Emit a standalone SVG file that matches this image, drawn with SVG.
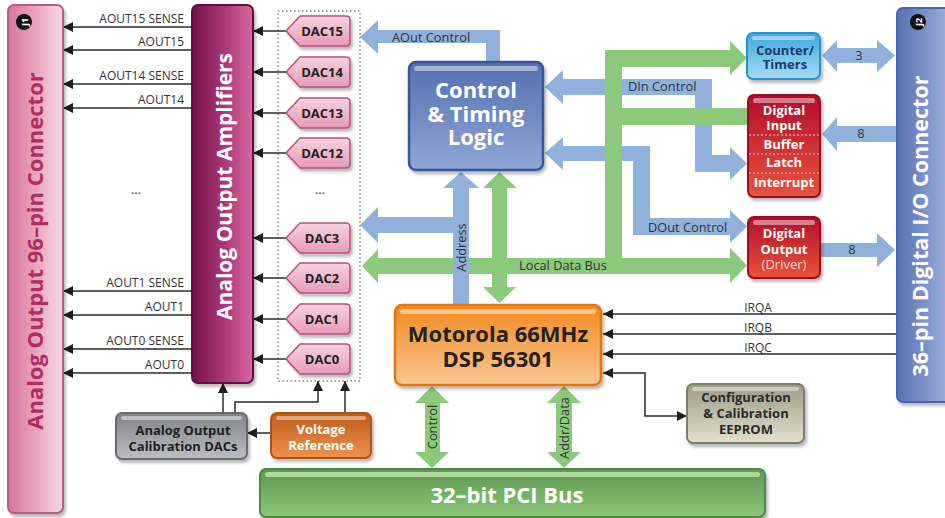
<svg xmlns="http://www.w3.org/2000/svg" width="945" height="518" viewBox="0 0 945 518">
<defs>
  <style>
    text { font-family: "Open Sans", "Noto Sans", "DejaVu Sans", sans-serif; }
    .lbl { font-size: 12px; fill: #333; }
    .bus { font-size: 12.8px; fill: #333; }
    .big { font-size: 22px; font-weight: bold; }
    .box13 { font-size: 13px; font-weight: bold; }
    .dac { font-size: 13px; font-weight: bold; fill: #222; text-anchor: middle; }
    .ln { stroke: #2a2a2a; stroke-width: 1.5; fill: none; }
    .blue { fill: #8fb1dc; }
    .green { fill: #8bc97b; }
    .hl { fill: #ffffff; opacity: 0.45; }
    .mid { text-anchor: middle; }
  </style>
  <marker id="ah" viewBox="0 0 10 10" refX="10" refY="5" markerWidth="11" markerHeight="10" markerUnits="userSpaceOnUse" orient="auto-start-reverse">
    <path d="M0,0 L10,5 L0,10 z" fill="#1e1e1e"/>
  </marker>
  <filter id="sh" x="-10%" y="-10%" width="130%" height="130%">
    <feDropShadow dx="2" dy="3" stdDeviation="1.5" flood-color="#000" flood-opacity="0.28"/>
  </filter>
  <linearGradient id="gJ1" x1="0" y1="0" x2="1" y2="0"><stop offset="0" stop-color="#d6759c"/><stop offset="0.5" stop-color="#e9a4bf"/><stop offset="1" stop-color="#f8d8e5"/></linearGradient>
  <linearGradient id="gAmp" x1="0" y1="0" x2="1" y2="0"><stop offset="0" stop-color="#731446"/><stop offset="0.5" stop-color="#a83574"/><stop offset="1" stop-color="#d8689e"/></linearGradient>
  <linearGradient id="gDac" x1="0" y1="0" x2="0" y2="1"><stop offset="0" stop-color="#f8d2e0"/><stop offset="1" stop-color="#e69ab8"/></linearGradient>
  <linearGradient id="gCtl" x1="0" y1="0" x2="0" y2="1"><stop offset="0" stop-color="#5470b0"/><stop offset="1" stop-color="#90a6d6"/></linearGradient>
  <linearGradient id="gCnt" x1="0" y1="0" x2="0" y2="1"><stop offset="0" stop-color="#3ea8e0"/><stop offset="1" stop-color="#a6dcf5"/></linearGradient>
  <linearGradient id="gRed" x1="0" y1="0" x2="0" y2="1"><stop offset="0" stop-color="#b30f2c"/><stop offset="1" stop-color="#e9523c"/></linearGradient>
  <linearGradient id="gJ2" x1="0" y1="0" x2="1" y2="0"><stop offset="0" stop-color="#5670b2"/><stop offset="1" stop-color="#a2b2dc"/></linearGradient>
  <linearGradient id="gMot" x1="0" y1="0" x2="0" y2="1"><stop offset="0" stop-color="#f08a1c"/><stop offset="1" stop-color="#fac794"/></linearGradient>
  <linearGradient id="gEep" x1="0" y1="0" x2="0" y2="1"><stop offset="0" stop-color="#9e9a86"/><stop offset="1" stop-color="#e4e0d0"/></linearGradient>
  <linearGradient id="gCal" x1="0" y1="0" x2="0" y2="1"><stop offset="0" stop-color="#818387"/><stop offset="1" stop-color="#bcbec1"/></linearGradient>
  <linearGradient id="gVr" x1="0" y1="0" x2="0" y2="1"><stop offset="0" stop-color="#bd5c1a"/><stop offset="1" stop-color="#f0924e"/></linearGradient>
  <linearGradient id="gPci" x1="0" y1="0" x2="0" y2="1"><stop offset="0" stop-color="#5e9752"/><stop offset="1" stop-color="#8cc676"/></linearGradient>
</defs>
<rect width="945" height="518" fill="#ffffff"/>

<g id="connectors">
  <!-- blue buses -->
  <path class="blue" d="M486,64 L486,43 L378,43 L378,54 L360,37 L378,20 L378,30 L500,30 L500,64 Z"/>
  <text class="bus" x="392" y="42">AOut Control</text>
  <path class="blue" d="M545,87 L563,70 L563,79 L712,79 L712,155 L730,155 L730,147 L747,163.5 L730,180 L730,172 L695,172 L695,95 L563,95 L563,104 Z"/>
  <path class="blue" d="M545,153 L563,137 L563,146 L650,146 L650,218 L730,218 L730,210 L747,226.5 L730,243 L730,235 L633,235 L633,161 L563,161 L563,170 Z"/>
  <path class="blue" d="M822,55.5 L837,40 L837,48 L877,48 L877,40 L895,55.5 L877,72 L877,63 L837,63 L837,72 Z"/>
  <path class="blue" d="M822,134 L837,117 L837,126 L899,126 L899,142 L837,142 L837,151 Z"/>
  <path class="blue" d="M818,243 L877,243 L877,233 L895,250 L877,267 L877,257 L818,257 Z"/>
  <!-- green buses -->
  <path class="green" d="M362,266 L378,249 L378,258 L605,258 L605,50 L730,50 L730,41 L747,58 L730,75 L730,67 L622,67 L622,108 L750,108 L750,125 L622,125 L622,258 L730,258 L730,248 L747,265.5 L730,283 L730,274 L378,274 L378,283 Z"/>
  <path class="green" d="M499.5,172 L517,188 L507,188 L507,287 L516,287 L499.5,303 L483,287 L492,287 L492,188 L483,188 Z"/>
  <path class="green" d="M432,386 L449,403 L440,403 L440,452 L449,452 L432,468 L415,452 L425,452 L425,403 L415,403 Z"/>
  <path class="green" d="M564,386 L581,403 L572,403 L572,452 L581,452 L564,468 L547,452 L556,452 L556,403 L547,403 Z"/>
  <!-- address (over data bus) -->
  <path class="blue" d="M461,172 L479,188 L469,188 L469,310 L453,310 L453,233 L378,233 L378,243 L360,225 L378,207 L378,217 L453,217 L453,188 L443,188 Z"/>
  <text class="bus" x="628" y="91">DIn Control</text>
  <text class="bus" x="648" y="232">DOut Control</text>
  <text class="bus" x="519" y="270">Local Data Bus</text>
  <text class="bus mid" x="859" y="60">3</text>
  <text class="bus mid" x="861" y="138">8</text>
  <text class="bus mid" x="852" y="254">8</text>
  <text class="bus mid" transform="translate(466,247.5) rotate(-90)">Address</text>
  <text class="bus mid" transform="translate(437,427) rotate(-90)">Control</text>
  <text class="bus mid" transform="translate(569,428) rotate(-90)">Addr/Data</text>

  <!-- analog outputs -->
  <line class="ln" x1="192" y1="27" x2="63" y2="27" marker-end="url(#ah)"/>
  <line class="ln" x1="192" y1="50" x2="63" y2="50" marker-end="url(#ah)"/>
  <line class="ln" x1="192" y1="84" x2="63" y2="84" marker-end="url(#ah)"/>
  <line class="ln" x1="192" y1="108" x2="63" y2="108" marker-end="url(#ah)"/>
  <line class="ln" x1="192" y1="291" x2="63" y2="291" marker-end="url(#ah)"/>
  <line class="ln" x1="192" y1="315" x2="63" y2="315" marker-end="url(#ah)"/>
  <line class="ln" x1="192" y1="349" x2="63" y2="349" marker-end="url(#ah)"/>
  <line class="ln" x1="192" y1="373" x2="63" y2="373" marker-end="url(#ah)"/>
  <g class="lbl" text-anchor="end">
    <text x="184" y="23">AOUT15 SENSE</text>
    <text x="184" y="46">AOUT15</text>
    <text x="184" y="80">AOUT14 SENSE</text>
    <text x="184" y="104">AOUT14</text>
    <text x="184" y="287">AOUT1 SENSE</text>
    <text x="184" y="311">AOUT1</text>
    <text x="184" y="345">AOUT0 SENSE</text>
    <text x="184" y="369">AOUT0</text>
  </g>
  <text class="bus mid" x="136" y="194" font-size="14">...</text>
  <!-- DAC outputs -->
  <line class="ln" x1="287" y1="31" x2="253" y2="31" marker-end="url(#ah)"/>
  <line class="ln" x1="287" y1="72" x2="253" y2="72" marker-end="url(#ah)"/>
  <line class="ln" x1="287" y1="113" x2="253" y2="113" marker-end="url(#ah)"/>
  <line class="ln" x1="287" y1="153" x2="253" y2="153" marker-end="url(#ah)"/>
  <line class="ln" x1="287" y1="238" x2="253" y2="238" marker-end="url(#ah)"/>
  <line class="ln" x1="287" y1="278" x2="253" y2="278" marker-end="url(#ah)"/>
  <line class="ln" x1="287" y1="319" x2="253" y2="319" marker-end="url(#ah)"/>
  <line class="ln" x1="287" y1="359" x2="253" y2="359" marker-end="url(#ah)"/>
  <text class="bus mid" x="320" y="194" font-size="14">...</text>
  <!-- IRQ -->
  <line class="ln" x1="897" y1="314" x2="603" y2="314" marker-end="url(#ah)"/>
  <line class="ln" x1="897" y1="334" x2="603" y2="334" marker-end="url(#ah)"/>
  <line class="ln" x1="897" y1="354" x2="603" y2="354" marker-end="url(#ah)"/>
  <text class="lbl mid" x="758" y="312">IRQA</text>
  <text class="lbl mid" x="758" y="332">IRQB</text>
  <text class="lbl mid" x="758" y="352">IRQC</text>
  <polyline class="ln" points="603,373 645,373 645,416 687,416" marker-start="url(#ah)" marker-end="url(#ah)"/>
  <!-- calibration -->
  <line class="ln" x1="223" y1="413" x2="223" y2="383" marker-end="url(#ah)"/>
  <polyline class="ln" points="235,413 235,402 318,402 318,381" marker-end="url(#ah)"/>
  <line class="ln" x1="345" y1="413" x2="345" y2="381" marker-end="url(#ah)"/>
  <line class="ln" x1="271" y1="433" x2="247" y2="433" marker-end="url(#ah)"/>
</g>

<g id="j1">
  <rect x="8" y="5" width="55" height="508" rx="6" fill="url(#gJ1)" stroke="#b65d86" stroke-width="2" filter="url(#sh)"/>
  <circle cx="24" cy="22" r="8" fill="#111"/>
  <text transform="translate(27.5,22) rotate(-90)" class="mid" font-size="9" font-weight="bold" fill="#fff">J1</text>
  <text transform="translate(43,251) rotate(-90)" class="mid" font-size="22" font-weight="bold" fill="#b02c62">Analog Output 96–pin Connector</text>
</g>

<g id="amplifiers">
  <rect x="192" y="5" width="61" height="378" rx="6" fill="url(#gAmp)" stroke="#65103c" stroke-width="2" filter="url(#sh)"/>
  <text transform="translate(232,186.5) rotate(-90)" class="mid" font-size="21" font-weight="bold" fill="#fff">Analog Output Amplifiers</text>
</g>

<g id="dacs">
  <rect x="278" y="11" width="82" height="370" fill="none" stroke="#444" stroke-width="1" stroke-dasharray="1.5,2.5"/>
  <g id="dac15"><path d="M286,31 L300,16 L346,16 Q350,16 350,20 L350,42 Q350,46 346,46 L300,46 Z" fill="url(#gDac)" stroke="#b8507c" stroke-width="1.5" filter="url(#sh)"/><text class="dac" x="322" y="36">DAC15</text></g>
  <g id="dac14"><path d="M286,72 L300,57 L346,57 Q350,57 350,61 L350,83 Q350,87 346,87 L300,87 Z" fill="url(#gDac)" stroke="#b8507c" stroke-width="1.5" filter="url(#sh)"/><text class="dac" x="322" y="77">DAC14</text></g>
  <g id="dac13"><path d="M286,113 L300,98 L346,98 Q350,98 350,102 L350,124 Q350,128 346,128 L300,128 Z" fill="url(#gDac)" stroke="#b8507c" stroke-width="1.5" filter="url(#sh)"/><text class="dac" x="322" y="118">DAC13</text></g>
  <g id="dac12"><path d="M286,153 L300,138 L346,138 Q350,138 350,142 L350,164 Q350,168 346,168 L300,168 Z" fill="url(#gDac)" stroke="#b8507c" stroke-width="1.5" filter="url(#sh)"/><text class="dac" x="322" y="158">DAC12</text></g>
  <g id="dac3"><path d="M286,238 L300,223 L346,223 Q350,223 350,227 L350,249 Q350,253 346,253 L300,253 Z" fill="url(#gDac)" stroke="#b8507c" stroke-width="1.5" filter="url(#sh)"/><text class="dac" x="322" y="243">DAC3</text></g>
  <g id="dac2"><path d="M286,278 L300,263 L346,263 Q350,263 350,267 L350,289 Q350,293 346,293 L300,293 Z" fill="url(#gDac)" stroke="#b8507c" stroke-width="1.5" filter="url(#sh)"/><text class="dac" x="322" y="283">DAC2</text></g>
  <g id="dac1"><path d="M286,319 L300,304 L346,304 Q350,304 350,308 L350,330 Q350,334 346,334 L300,334 Z" fill="url(#gDac)" stroke="#b8507c" stroke-width="1.5" filter="url(#sh)"/><text class="dac" x="322" y="324">DAC1</text></g>
  <g id="dac0"><path d="M286,359 L300,344 L346,344 Q350,344 350,348 L350,370 Q350,374 346,374 L300,374 Z" fill="url(#gDac)" stroke="#b8507c" stroke-width="1.5" filter="url(#sh)"/><text class="dac" x="322" y="364">DAC0</text></g>
</g>

<g id="control">
  <rect x="409" y="62" width="134" height="108" rx="7" fill="url(#gCtl)" stroke="#3a5494" stroke-width="2.5" filter="url(#sh)"/>
  <rect class="hl" x="414" y="66" width="124" height="5" rx="2.5"/>
  <g class="big mid" fill="#fff">
    <text x="476" y="98">Control</text>
    <text x="476" y="122">&amp; Timing</text>
    <text x="476" y="145">Logic</text>
  </g>
</g>

<g id="counter">
  <rect x="747" y="33" width="73" height="46" rx="6" fill="url(#gCnt)" stroke="#2a8fcb" stroke-width="2" filter="url(#sh)"/>
  <rect class="hl" x="752" y="36" width="63" height="4" rx="2"/>
  <g class="box13 mid" fill="#173d6a"><text x="785" y="55">Counter/</text><text x="785" y="69">Timers</text></g>
</g>

<g id="digital-input">
  <rect x="748" y="95" width="72" height="102" rx="6" fill="url(#gRed)" stroke="#9a0e22" stroke-width="2" filter="url(#sh)"/>
  <rect class="hl" x="753" y="98" width="62" height="5" rx="2.5"/>
  <g stroke="#f4c0c0" stroke-width="1" stroke-dasharray="2,2"><line x1="749" y1="135" x2="819" y2="135"/><line x1="749" y1="154" x2="819" y2="154"/><line x1="749" y1="173" x2="819" y2="173"/></g>
  <g class="box13 mid" fill="#fff">
    <text x="784" y="115">Digital</text><text x="784" y="130">Input</text><text x="784" y="149">Buffer</text><text x="784" y="167">Latch</text><text x="784" y="187">Interrupt</text>
  </g>
</g>

<g id="digital-output">
  <rect x="748" y="217" width="72" height="61" rx="6" fill="url(#gRed)" stroke="#9a0e22" stroke-width="2" filter="url(#sh)"/>
  <rect class="hl" x="753" y="220" width="62" height="5" rx="2.5"/>
  <g class="mid" font-size="13"><text x="784" y="238" font-weight="bold" fill="#fff">Digital</text><text x="784" y="254" font-weight="bold" fill="#fff">Output</text><text x="784" y="269" fill="#ffd8d0">(Driver)</text></g>
</g>

<g id="j2">
  <rect x="897" y="8" width="54" height="394" rx="6" fill="url(#gJ2)" stroke="#4a64a8" stroke-width="2" filter="url(#sh)"/>
  <circle cx="918" cy="22" r="8" fill="#111"/>
  <text transform="translate(921.5,22) rotate(-90)" class="mid" font-size="9" font-weight="bold" fill="#fff">J2</text>
  <text transform="translate(928,226) rotate(-90)" class="mid" font-size="21.5" font-weight="bold" fill="#fff">36–pin Digital I/O Connector</text>
</g>

<g id="dsp">
  <rect x="395" y="305" width="206" height="80" rx="7" fill="url(#gMot)" stroke="#e27414" stroke-width="2.5" filter="url(#sh)"/>
  <rect class="hl" x="400" y="309" width="196" height="5" rx="2.5"/>
  <g class="big mid" fill="#222"><text x="498" y="342">Motorola 66MHz</text><text x="498" y="367">DSP 56301</text></g>
</g>

<g id="eeprom">
  <rect x="687" y="384" width="117" height="59" rx="6" fill="url(#gEep)" stroke="#7f7b69" stroke-width="2" filter="url(#sh)"/>
  <rect class="hl" x="692" y="387" width="107" height="4" rx="2"/>
  <g class="box13 mid" fill="#2a2a2a"><text x="746" y="402">Configuration</text><text x="746" y="418">&amp; Calibration</text><text x="746" y="434">EEPROM</text></g>
</g>

<g id="cal-dacs">
  <rect x="116" y="413" width="131" height="46" rx="6" fill="url(#gCal)" stroke="#696b6f" stroke-width="2" filter="url(#sh)"/>
  <rect class="hl" x="121" y="416" width="121" height="4" rx="2"/>
  <g class="box13 mid" fill="#222"><text x="183" y="435">Analog Output</text><text x="183" y="451">Calibration DACs</text></g>
</g>

<g id="vref">
  <rect x="271" y="413" width="100" height="45" rx="6" fill="url(#gVr)" stroke="#ad5318" stroke-width="2" filter="url(#sh)"/>
  <rect class="hl" x="276" y="416" width="90" height="4" rx="2"/>
  <g class="box13 mid" fill="#fff"><text x="321" y="434">Voltage</text><text x="321" y="450">Reference</text></g>
</g>

<g id="pci">
  <rect x="260" y="469" width="505" height="48" rx="6" fill="url(#gPci)" stroke="#4e8a44" stroke-width="2" filter="url(#sh)"/>
  <rect x="265" y="472" width="495" height="5" rx="2.5" fill="#c4e6a8" opacity="0.8"/>
  <text class="big mid" x="507" y="503" font-size="21" fill="#fff">32–bit PCI Bus</text>
</g>
</svg>
